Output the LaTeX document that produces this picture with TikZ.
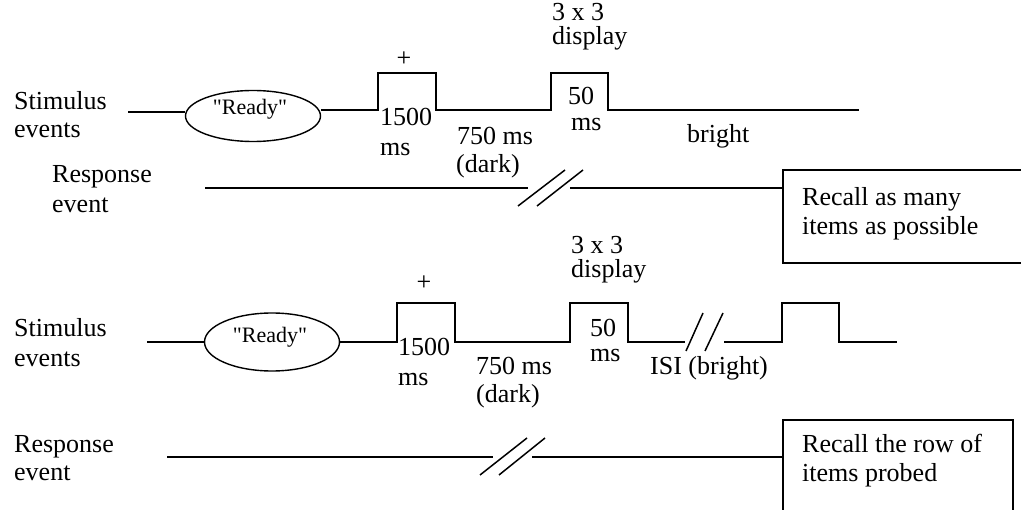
\documentclass[tikz,border=0pt]{standalone}
\usepackage{fontspec}
\setmainfont{Liberation Serif}[Ligatures=TeXOff]
\usetikzlibrary{shapes.geometric}
\begin{document}
\begin{tikzpicture}[x=1pt,y=-1pt,
  wire/.style={line width=1.8pt, line join=miter},
  slash/.style={line width=1.5pt},
  txt/.style={font=\fontsize{26}{30}\selectfont, inner sep=0pt, anchor=base west},
  readytxt/.style={font=\fontsize{22}{26}\selectfont, inner sep=0pt, anchor=base},
  plus/.style={font=\fontsize{26}{30}\selectfont, inner sep=0pt, anchor=center},
  oval/.style={draw, ellipse, line width=1.4pt, inner sep=0pt},
  frame/.style={draw, line width=1.8pt, inner sep=0pt, anchor=north west}]
\useasboundingbox (0,0) rectangle (1021,510);
\clip (0,0) rectangle (1021,510);

% ---------------- top panel ----------------
\node[oval, minimum width=135pt, minimum height=51pt] (ell1) at (253,116) {};
\node[readytxt] (ready1) at (250,115) {"Ready"};
\node[frame, minimum width=260pt, minimum height=93pt] (box1) at (782,169) {};

\coordinate (ts0) at (128,112);
\draw[wire] (ts0) -- (ts0 -| ell1.west);
\coordinate (ts1) at (378,110);
\draw[wire] (ts1 -| ell1.east) -- (ts1) -- (378,73) -- (436,73) -- (436,110)
  -- (551,110) -- (551,73) -- (608,73) -- (608,110) -- (859,110);

\coordinate (tr0) at (205,188);
\coordinate (tr1) at (528,188);
\coordinate (tr2) at (570,188);
\draw[wire] (tr0) -- (tr1);
\draw[wire] (tr2) -- (tr2 -| box1.west);
\draw[slash] (518,206) -- (565,170);
\draw[slash] (537,206) -- (583,170);

\node[txt] (tstim1) at (14,110) {Stimulus};
\node[txt] (tstim2) at (14,138) {events};
\node[txt] (tresp1) at (52,183) {Response};
\node[txt] (tresp2) at (52,213) {event};
\node[plus] (tplus) at (404,59) {+};
\node[txt] (t1500) at (380,126) {1500};
\node[txt] (t1500ms) at (380,156) {ms};
\node[txt] (t750) at (457,145) {750 ms};
\node[txt] (tdark) at (456,173) {(dark)};
\node[txt] (t3x3) at (552,21) {3 x 3};
\node[txt] (tdisp) at (552,45) {display};
\node[txt] (t50) at (568,105) {50};
\node[txt] (t50ms) at (571,131) {ms};
\node[txt] (tbright) at (687,143) {bright};
\node[txt] (trec1) at (802,206) {Recall as many};
\node[txt] (trec2) at (802,235) {items as possible};

% ---------------- bottom panel ----------------
\node[oval, minimum width=135pt, minimum height=58pt] (ell2) at (272,342) {};
\node[readytxt] (ready2) at (270,343) {"Ready"};
\node[frame, minimum width=230pt, minimum height=110pt] (box2) at (782,419) {};

\coordinate (bs0) at (147,342);
\draw[wire] (bs0) -- (bs0 -| ell2.west);
\coordinate (bs1) at (397,342);
\draw[wire] (bs1 -| ell2.east) -- (bs1) -- (397,303) -- (455,303) -- (455,342)
  -- (570,342) -- (570,303) -- (628,303) -- (628,342) -- (685,342);
\draw[wire] (724,342) -- (782,342) -- (782,303) -- (839,303) -- (839,342) -- (897,342);
\draw[slash] (686,351) -- (703,313);
\draw[slash] (705,351) -- (723,313);

\coordinate (br0) at (167,457);
\coordinate (br1) at (493,457);
\coordinate (br2) at (532,457);
\draw[wire] (br0) -- (br1);
\draw[wire] (br2) -- (br2 -| box2.west);
\draw[slash] (480,475) -- (527,438);
\draw[slash] (499,475) -- (545,438);

\node[txt] (bstim1) at (14,337) {Stimulus};
\node[txt] (bstim2) at (14,367) {events};
\node[txt] (bresp1) at (14,453) {Response};
\node[txt] (bresp2) at (14,481) {event};
\node[plus] (bplus) at (424,283) {+};
\node[txt] (b1500) at (398,356) {1500};
\node[txt] (b1500ms) at (398,386) {ms};
\node[txt] (b750) at (476,375) {750 ms};
\node[txt] (bdark) at (476,403) {(dark)};
\node[txt] (b3x3) at (571,254) {3 x 3};
\node[txt] (bdisp) at (571,278) {display};
\node[txt] (b50) at (590,337) {50};
\node[txt] (b50ms) at (590,362) {ms};
\node[txt] (bisi) at (650,375) {ISI (bright)};
\node[txt] (brec1) at (802,453) {Recall the row of};
\node[txt] (brec2) at (802,482) {items probed};
\end{tikzpicture}
\end{document}
